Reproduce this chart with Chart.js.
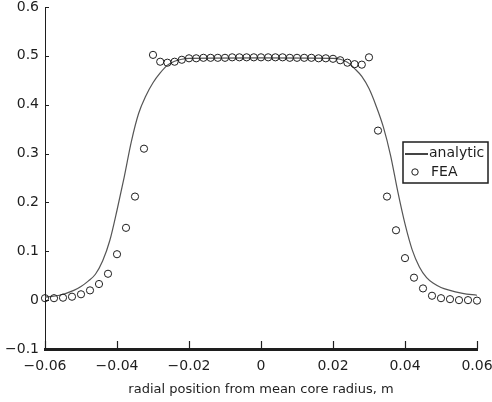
<!DOCTYPE html>
<html>
<head>
<meta charset="utf-8">
<script src="https://cdn.jsdelivr.net/npm/chart.js@4.4.0/dist/chart.umd.min.js"></script>
<style>
html,body{margin:0;padding:0;background:#fff;}
#wrap{width:492px;height:402px;}
</style>
</head>
<body>
<div id="wrap"><canvas id="c" width="492" height="402"></canvas></div>
<script>
// ---- data ----
const analyticX = [-0.060,-0.056,-0.052,-0.050,-0.048,-0.046,-0.044,-0.042,-0.040,-0.038,-0.036,-0.034,-0.032,-0.030,-0.028,-0.026,-0.024,-0.022,-0.020,0.000,0.020,0.022,0.024,0.026,0.028,0.030,0.032,0.034,0.036,0.038,0.040,0.042,0.044,0.046,0.048,0.050,0.052,0.056,0.060];
const analyticY = [0.006,0.010,0.020,0.028,0.039,0.053,0.080,0.122,0.184,0.252,0.325,0.382,0.418,0.445,0.465,0.481,0.489,0.493,0.495,0.496,0.495,0.493,0.487,0.474,0.458,0.433,0.397,0.354,0.296,0.222,0.156,0.103,0.068,0.046,0.034,0.026,0.021,0.014,0.010];

const feaX = [-0.0600,-0.0575,-0.0550,-0.0525,-0.0500,-0.0475,-0.0450,-0.0425,-0.0400,-0.0375,-0.0350,-0.0325,-0.0300,
  -0.028,-0.026,-0.024,-0.022,-0.020,-0.018,-0.016,-0.014,-0.012,-0.010,-0.008,-0.006,-0.004,-0.002,0.000,0.002,0.004,0.006,0.008,0.010,0.012,0.014,0.016,0.018,0.020,0.022,0.024,0.026,0.028,
  0.0300,0.0325,0.0350,0.0375,0.0400,0.0425,0.0450,0.0475,0.0500,0.0525,0.0550,0.0575,0.0600];
const feaY = [0.004,0.004,0.005,0.007,0.012,0.020,0.033,0.054,0.094,0.148,0.212,0.310,0.502,
  0.488,0.486,0.488,0.492,0.495,0.495,0.496,0.496,0.496,0.496,0.497,0.497,0.497,0.497,0.497,0.497,0.497,0.497,0.496,0.496,0.496,0.496,0.495,0.495,0.494,0.491,0.486,0.483,0.482,
  0.497,0.347,0.212,0.143,0.086,0.046,0.024,0.009,0.004,0.002,0.000,0.000,-0.001];

const xTicks = [-0.06,-0.04,-0.02,0,0.02,0.04,0.06];
const yTicks = [-0.1,0,0.1,0.2,0.3,0.4,0.5,0.6];
const xTitle = 'radial position from mean core radius, m';
const legendLabels = ['analytic','FEA'];

// ---- helpers ----
const fmt = v => { const s = String(Math.round(v*100)/100); return s.replace('-', '\u2212'); };
const FONT = '"DejaVu Sans", sans-serif';
const INK = '#1e1e1e';

const inwardTicks = {
  id:'inwardTicks',
  afterDraw(chart){
    const ctx = chart.ctx, xs = chart.scales.x, ys = chart.scales.y, a = chart.chartArea;
    ctx.save();
    ctx.strokeStyle = INK;
    ctx.lineWidth = 1;
    yTicks.forEach(v=>{
      const py = Math.round(ys.getPixelForValue(v))+0.5;
      ctx.beginPath(); ctx.moveTo(a.left, py); ctx.lineTo(a.left+4, py); ctx.stroke();
    });
    ctx.lineWidth = 1.2;
    xTicks.forEach(v=>{
      const px = Math.round(xs.getPixelForValue(v))+0.5;
      ctx.beginPath(); ctx.moveTo(px, a.bottom); ctx.lineTo(px, a.bottom-8); ctx.stroke();
    });
    // legend box
    const bx = 403, by = 142, bw = 85, bh = 41;
    ctx.fillStyle = '#fff';
    ctx.fillRect(bx, by, bw, bh);
    ctx.lineWidth = 1.5;
    ctx.strokeStyle = INK;
    ctx.strokeRect(bx, by, bw, bh);
    ctx.strokeStyle = '#444';
    ctx.lineWidth = 2;
    ctx.beginPath(); ctx.moveTo(bx+2, by+12); ctx.lineTo(bx+25, by+12); ctx.stroke();
    ctx.strokeStyle = INK;
    ctx.lineWidth = 1;
    ctx.beginPath(); ctx.arc(bx+12, by+30, 3.2, 0, Math.PI*2); ctx.stroke();
    ctx.fillStyle = INK;
    ctx.font = '14px ' + FONT;
    ctx.textBaseline = 'middle';
    ctx.textAlign = 'left';
    ctx.fillText(legendLabels[0], bx+26, by+11);
    ctx.fillText(legendLabels[1], bx+28, by+30);
    ctx.restore();
  }
};

new Chart(document.getElementById('c'), {
  type:'scatter',
  data:{
    datasets:[
      {
        label:legendLabels[0],
        data: analyticX.map((x,i)=>({x, y:analyticY[i]})),
        showLine:true,
        borderColor:'#555',
        borderWidth:1.2,
        pointRadius:0,
        cubicInterpolationMode:'monotone',
        order:2
      },
      {
        label:legendLabels[1],
        data: feaX.map((x,i)=>({x, y:feaY[i]})),
        showLine:false,
        pointStyle:'circle',
        pointRadius:3.6,
        pointBorderWidth:1,
        borderColor:INK,
        backgroundColor:'rgba(0,0,0,0)',
        clip:false,
        order:1
      }
    ]
  },
  options:{
    responsive:false,
    animation:false,
    devicePixelRatio:1,
    layout:{padding:{left:0,right:0,top:7,bottom:0}},
    plugins:{legend:{display:false}, tooltip:{enabled:false}},
    scales:{
      x:{
        type:'linear', min:-0.06, max:0.06,
        afterBuildTicks: s => { s.ticks = xTicks.map(v=>({value:v})); },
        afterFit: s => { s.height = 53; s.paddingLeft = 0; s.paddingRight = 15; },
        ticks:{ callback: v => fmt(v), color:INK, font:{family:FONT, size:14}, padding:9, maxRotation:0, autoSkip:false },
        grid:{drawOnChartArea:false, drawTicks:false},
        border:{display:true, color:INK, width:3},
        title:{display:true, text:xTitle, color:INK, font:{family:FONT, size:13}, padding:{top:0,bottom:5}}
      },
      y:{
        type:'linear', min:-0.1, max:0.6,
        afterBuildTicks: s => { s.ticks = yTicks.map(v=>({value:v})); },
        afterFit: s => { s.width = 45; s.paddingTop = 0; s.paddingBottom = 0; },
        ticks:{ callback: v => fmt(v), color:INK, font:{family:FONT, size:14}, padding:6, autoSkip:false },
        grid:{drawOnChartArea:false, drawTicks:false},
        border:{display:true, color:INK, width:1}
      }
    }
  },
  plugins:[inwardTicks]
});
</script>
</body>
</html>
